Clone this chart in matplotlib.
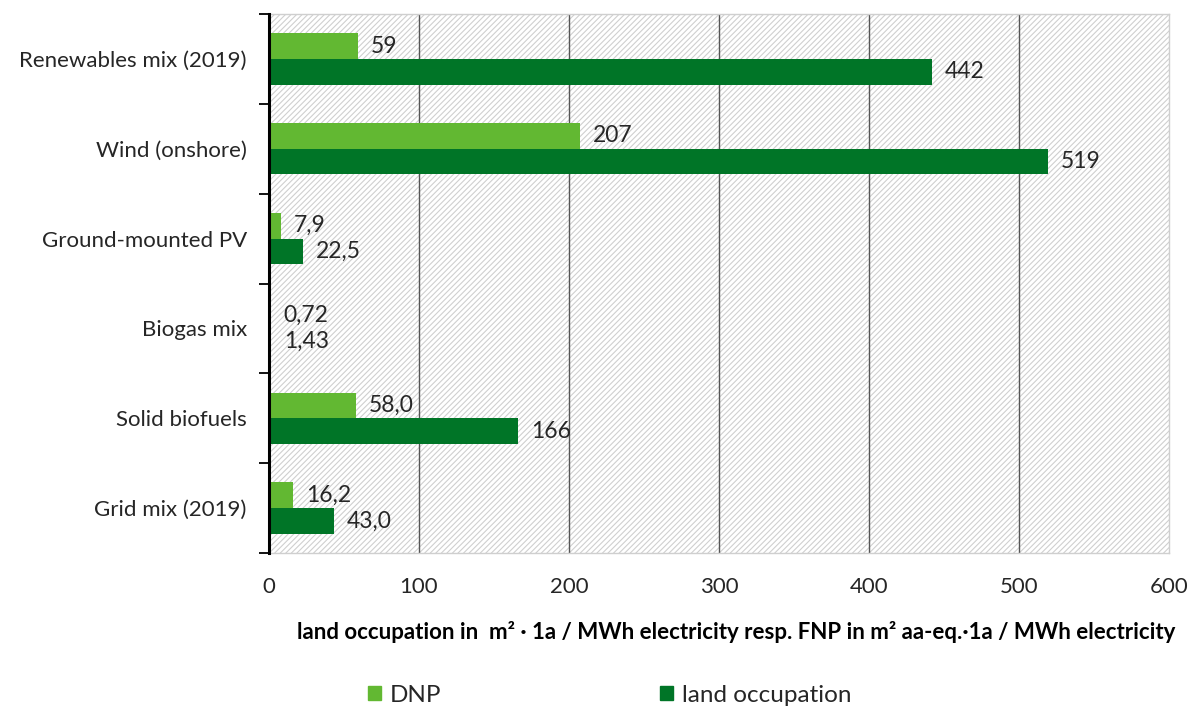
import numpy as np
import matplotlib.pyplot as plt
from matplotlib.patches import Rectangle, Patch

plt.rcParams['font.family'] = ['Lato', 'DejaVu Sans']
plt.rcParams['hatch.color'] = '#cfcfcf'
plt.rcParams['hatch.linewidth'] = 0.8

categories = ["Renewables mix (2019)", "Wind (onshore)", "Ground-mounted PV",
              "Biogas mix", "Solid biofuels", "Grid mix (2019)"]
dnp = [59, 207, 7.9, 0.72, 58.0, 16.2]
land = [442, 519, 22.5, 1.43, 166, 43.0]
dnp_labels = ["59", "207", "7,9", "0,72", "58,0", "16,2"]
land_labels = ["442", "519", "22,5", "1,43", "166", "43,0"]

c_dnp = '#62b832'
c_land = '#007527'
txt = '#262626'

fig = plt.figure(figsize=(11.96, 7.08), dpi=100)
ax = fig.add_axes([269/1196, 1 - 553/708, 900/1196, 539/708])

y = np.arange(len(categories))
h = 0.285
ax.add_patch(Rectangle((0, -0.5), 600, len(categories), facecolor='white',
                       hatch='//////', edgecolor='#cfcfcf', linewidth=0, zorder=0))
ax.barh(y - h/2, dnp, height=h, color=c_dnp, zorder=3, label='DNP')
ax.barh(y + h/2, land, height=h, color=c_land, zorder=3, label='land occupation')

for i in range(len(categories)):
    ax.annotate(dnp_labels[i], (dnp[i], y[i] - h/2), xytext=(9.5, 0),
                textcoords='offset points', va='center', ha='left',
                fontsize=16.5, color=txt, zorder=4)
    ax.annotate(land_labels[i], (land[i], y[i] + h/2), xytext=(9.5, 0),
                textcoords='offset points', va='center', ha='left',
                fontsize=16.5, color=txt, zorder=4)

ax.set_xlim(0, 600)
ax.set_ylim(len(categories) - 0.5, -0.5)
ax.set_xticks(np.arange(0, 601, 100))
for xv in range(100, 600, 100):
    ax.axvline(xv, color='#555555', linewidth=1.0, zorder=2)

ax.set_yticks(y)
ax.set_yticklabels(categories, fontsize=16, color=txt)
ax.set_yticks(np.arange(-0.5, len(categories), 1), minor=True)
ax.tick_params(axis='y', which='major', length=0, pad=16)
ax.tick_params(axis='y', which='minor', length=7, width=1.3, direction='out', color='black')
ax.tick_params(axis='x', length=0, labelsize=16, labelcolor=txt, pad=17)

for s in ['top', 'right', 'bottom']:
    ax.spines[s].set_color('#cfcfcf')
    ax.spines[s].set_linewidth(1.0)
ax.spines['left'].set_color('black')
ax.spines['left'].set_linewidth(2.2)
ax.spines['left'].set_zorder(5)

fig.text(736/1196, 1 - 632/708,
         "land occupation in  m² · 1a / MWh electricity resp. FNP in m² aa-eq.·1a / MWh electricity",
         ha='center', va='center', fontsize=16, fontweight='bold', color='black')

handles = [Patch(color=c_dnp, label='DNP'), Patch(color=c_land, label='land occupation')]
fig.legend(handles=handles, loc='center left', bbox_to_anchor=(368/1196, 1 - 695/708), ncol=2,
           frameon=False, fontsize=17.5, handlelength=0.55, handleheight=0.55,
           columnspacing=9.0, handletextpad=0.35, labelcolor=txt,
           borderpad=0, borderaxespad=0)

fig.savefig('out.png', dpi=100)
